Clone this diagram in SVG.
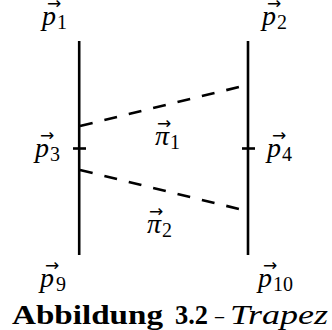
<svg xmlns="http://www.w3.org/2000/svg" width="332" height="330" viewBox="0 0 332 330">
<style>
.m{font-style:italic;font-size:28px;fill:#000}
.s{font-size:20px;fill:#000}
.a{font-size:17px;fill:#000}
.ln{stroke:#000;stroke-width:2.6;fill:none}
.d{stroke:#000;stroke-width:2.6;fill:none;stroke-dasharray:13 12.1}
.cb{font-weight:bold;font-size:28px;fill:#000}
.cn{font-size:28px;fill:#000}
.ci{font-style:italic;font-size:28px;fill:#000}
</style>
<rect width="332" height="330" fill="#fff"/>
<g id="left-line">
<line class="ln" x1="79.2" y1="41" x2="79.2" y2="255"/>
<line class="ln" x1="73" y1="148.5" x2="86" y2="148.5"/>
</g>
<g id="right-line">
<line class="ln" x1="248" y1="41" x2="248" y2="255"/>
<line class="ln" x1="242" y1="148.5" x2="255" y2="148.5"/>
</g>
<g id="connectors">
<line class="d" x1="80" y1="126" x2="239" y2="87"/>
<line class="d" x1="80" y1="170" x2="239" y2="209"/>
</g>
<g id="labels" font-family="Liberation Serif">
<g id="p1"><text class="m" x="42" y="25">p</text><text class="s" x="57" y="29">1</text><text class="a" font-family="DejaVu Sans" x="47" y="9">→</text></g>
<g id="p2"><text class="m" x="262" y="25">p</text><text class="s" x="277" y="29">2</text><text class="a" font-family="DejaVu Sans" x="267" y="9">→</text></g>
<g id="p3"><text class="m" x="35" y="157">p</text><text class="s" x="50" y="161">3</text><text class="a" font-family="DejaVu Sans" x="40" y="141">→</text></g>
<g id="p4"><text class="m" x="267" y="157">p</text><text class="s" x="282" y="161">4</text><text class="a" font-family="DejaVu Sans" x="272" y="141">→</text></g>
<g id="pi1"><text class="m" x="155" y="145">π</text><text class="s" x="170" y="149">1</text><text class="a" font-family="DejaVu Sans" x="157" y="129">→</text></g>
<g id="pi2"><text class="m" x="147" y="233">π</text><text class="s" x="162" y="237">2</text><text class="a" font-family="DejaVu Sans" x="149" y="217">→</text></g>
<g id="p9"><text class="m" x="40" y="287">p</text><text class="s" x="56" y="291">9</text><text class="a" font-family="DejaVu Sans" x="45" y="271">→</text></g>
<g id="p10"><text class="m" x="258" y="287">p</text><text class="s" x="273" y="291">10</text><text class="a" font-family="DejaVu Sans" x="263" y="271">→</text></g>
</g>
<g id="caption" font-family="Liberation Serif">
<text class="cb" x="12" y="324" textLength="151" lengthAdjust="spacingAndGlyphs">Abbildung</text>
<text class="cb" x="175" y="324" textLength="33" lengthAdjust="spacingAndGlyphs">3.2</text>
<text class="cn" x="215" y="324" textLength="9" lengthAdjust="spacingAndGlyphs">–</text>
<text class="ci" x="230" y="324" textLength="98" lengthAdjust="spacingAndGlyphs">Trapez</text>
</g>
</svg>
